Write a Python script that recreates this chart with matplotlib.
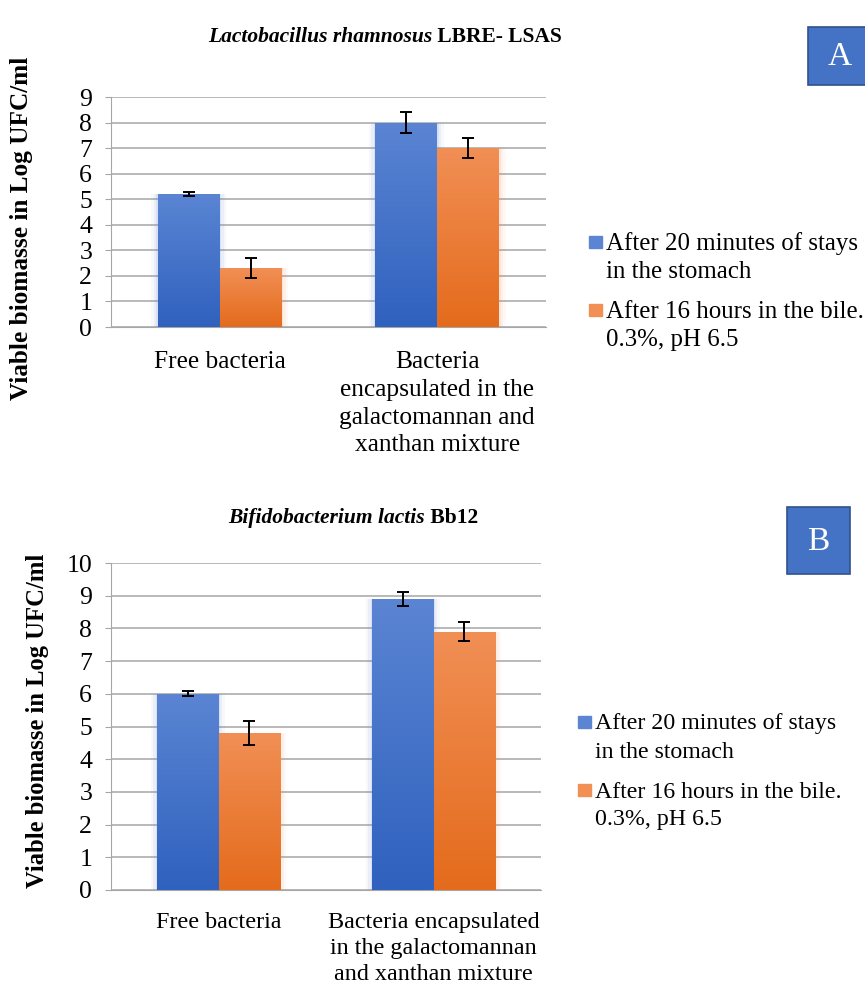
import numpy as np
import matplotlib
matplotlib.use("Agg")
import matplotlib.pyplot as plt
from matplotlib.colors import LinearSegmentedColormap
from matplotlib.patches import Rectangle
from matplotlib.text import Annotation

plt.rcParams['font.family'] = ['Liberation Serif', 'DejaVu Serif']

# data
categories_a = ["Free bacteria", "Bacteria\nencapsulated in the\ngalactomannan and\nxanthan mixture"]
categories_b = ["Free bacteria", "Bacteria encapsulated\nin the galactomannan\nand xanthan mixture"]
series_labels = [["After 20 minutes of stays", "in the stomach"],
                 ["After 16 hours in the bile.", "0.3%, pH 6.5"]]

stomach_a = [5.2, 8.0]
stomach_a_err = [0.08, 0.4]
bile_a = [2.3, 7.0]
bile_a_err = [0.4, 0.4]

stomach_b = [6.0, 8.9]
stomach_b_err = [0.08, 0.2]
bile_b = [4.8, 7.9]
bile_b_err = [0.38, 0.3]

W, H = 865, 983
BLUE = ("#2f61be", "#5b85d3")
ORANGE = ("#e46b1c", "#f18f55")
GRID = "#a6a6a6"


def px(x, y):
    # pixel position (from top-left) -> figure fraction
    return x / W, 1 - y / H


def gradient_bars(ax, xs, vals, errs, width, colors):
    bars = ax.bar(xs, vals, width, color=colors[0], zorder=3)
    cmap = LinearSegmentedColormap.from_list("g", colors)
    grad = np.linspace(0, 1, 256).reshape(-1, 1)
    for b in bars:
        x0, w, h = b.get_x(), b.get_width(), b.get_height()
        # soft glow around the bar
        for k, a in [(0.06, 0.05), (0.035, 0.08), (0.015, 0.12)]:
            ax.bar(x0 + w / 2, h + k * 4, w + k, bottom=-k * 4, color=colors[1],
                   alpha=a, zorder=2, linewidth=0)
        im = ax.imshow(grad, extent=[x0, x0 + w, 0, h], origin="lower", cmap=cmap,
                       aspect="auto", zorder=3.5)
        im.set_clip_path(b)
    ax.errorbar(xs, vals, yerr=errs, fmt="none", ecolor="black", elinewidth=1.4,
                capsize=4.5, capthick=1.4, zorder=5)


def panel(rect, cats, s1, e1, s2, e2, ymax, label_size, label_pad, spacing):
    ax = fig.add_axes(rect)
    x = np.arange(len(cats))
    w = 0.285
    gradient_bars(ax, x - w / 2, s1, e1, w, BLUE)
    gradient_bars(ax, x + w / 2, s2, e2, w, ORANGE)
    ax.set_xlim(-0.5, len(cats) - 0.5)
    ax.set_ylim(0, ymax)
    ax.set_yticks(range(0, ymax + 1))
    ax.yaxis.grid(True, color=GRID, linewidth=1.1, zorder=0)
    ax.set_axisbelow(True)
    ax.set_xticks(x)
    ax.set_xticklabels(cats, linespacing=spacing)
    for s in ["top", "right"]:
        ax.spines[s].set_visible(False)
    ax.spines["left"].set_color(GRID)
    ax.spines["bottom"].set_color(GRID)
    ax.tick_params(axis="y", length=4.5, color=GRID, labelsize=18.5, pad=9)
    ax.tick_params(axis="x", length=0, labelsize=label_size, pad=label_pad)
    return ax


def title(xpix, ypix, ital, bold):
    t1 = fig.text(*px(xpix, ypix), ital, fontsize=15.5, fontweight="bold",
                  fontstyle="italic", va="center", ha="left")
    fig.add_artist(Annotation(" " + bold, xy=(1, 0.5), xycoords=t1, va="center",
                              ha="left", fontsize=15.5, fontweight="bold"))


def legend(sq_x, text_x, ypix, size):
    for i, (lines, col) in enumerate(zip(series_labels, [BLUE[1], ORANGE[1]])):
        yy = ypix + i * 68
        fig.add_artist(Rectangle(px(sq_x, yy + 6), 13 / W, 12 / H,
                                 transform=fig.transFigure, color=col))
        for j, line in enumerate(lines):
            fig.text(*px(text_x, yy + j * 28 + 2), line, fontsize=size,
                     va="center", ha="left")


def letter_box(x0, y0, x1, y1, s):
    fig.add_artist(Rectangle(px(x0, y1), (x1 - x0) / W, (y1 - y0) / H,
                             transform=fig.transFigure, facecolor="#4472c4",
                             edgecolor="#2f528f", linewidth=1.2))
    fig.text(*px((x0 + x1) / 2, (y0 + y1) / 2 + 1), s, color="white", fontsize=24,
             ha="center", va="center")


fig = plt.figure(figsize=(W / 100, H / 100), dpi=100)

# panel A
l, b = px(111, 327)
ax_a = panel([l, b, 435 / W, 230 / H], categories_a, stomach_a, stomach_a_err,
             bile_a, bile_a_err, 9, 18.3, 17.5, 1.33)
fig.text(*px(22, 228), "Viable biomasse in Log UFC/ml", rotation=90, fontsize=18.2,
         fontweight="bold", ha="center", va="center")
title(208, 37, "Lactobacillus rhamnosus", "LBRE- LSAS")
legend(589, 606, 242, 17.9)
letter_box(808, 27, 872, 85, "A")

# panel B
l, b = px(111, 890)
ax_b = panel([l, b, 430 / W, 327 / H], categories_b, stomach_b, stomach_b_err,
             bile_b, bile_b_err, 10, 17.4, 15.5, 1.32)
fig.text(*px(38, 721), "Viable biomasse in Log UFC/ml", rotation=90, fontsize=17.7,
         fontweight="bold", ha="center", va="center")
title(228, 518, "Bifidobacterium lactis", "Bb12")
legend(578, 595, 722, 17.2)
letter_box(787, 507, 850, 574, "B")

fig.savefig("out.png", dpi=100)
